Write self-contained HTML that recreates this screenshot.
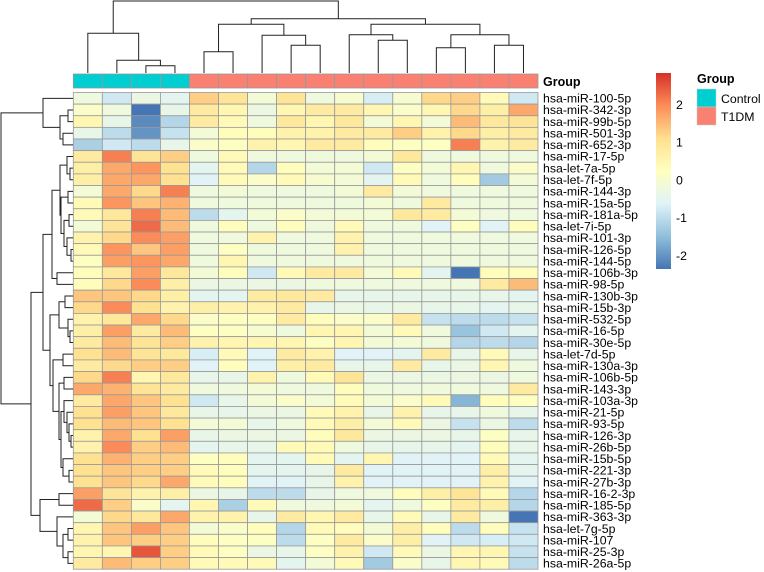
<!DOCTYPE html>
<html><head><meta charset="utf-8"><style>
body{margin:0;background:#fff;}
svg{display:block;font-family:"Liberation Sans",Arial,sans-serif;}
</style></head><body>
<svg id="c" width="764" height="572"></svg>
<script>
const rowLabels=["hsa-miR-100-5p","hsa-miR-342-3p","hsa-miR-99b-5p","hsa-miR-501-3p","hsa-miR-652-3p","hsa-miR-17-5p","hsa-let-7a-5p","hsa-let-7f-5p","hsa-miR-144-3p","hsa-miR-15a-5p","hsa-miR-181a-5p","hsa-let-7i-5p","hsa-miR-101-3p","hsa-miR-126-5p","hsa-miR-144-5p","hsa-miR-106b-3p","hsa-miR-98-5p","hsa-miR-130b-3p","hsa-miR-15b-3p","hsa-miR-532-5p","hsa-miR-16-5p","hsa-miR-30e-5p","hsa-let-7d-5p","hsa-miR-130a-3p","hsa-miR-106b-5p","hsa-miR-143-3p","hsa-miR-103a-3p","hsa-miR-21-5p","hsa-miR-93-5p","hsa-miR-126-3p","hsa-miR-26b-5p","hsa-miR-15b-5p","hsa-miR-221-3p","hsa-miR-27b-3p","hsa-miR-16-2-3p","hsa-miR-185-5p","hsa-miR-363-3p","hsa-let-7g-5p","hsa-miR-107","hsa-miR-25-3p","hsa-miR-26a-5p"];
const groups=["Control","Control","Control","Control","T1DM","T1DM","T1DM","T1DM","T1DM","T1DM","T1DM","T1DM","T1DM","T1DM","T1DM","T1DM"];
const values=[
[-0.2,-0.8,-0.3,-0.5,1.3,1.0,-0.1,1.0,-0.2,0,-0.7,0,1.2,1.3,0.4,-0.8],
[0.1,-0.2,-2.5,-0.4,0.8,0.5,-0.3,0.5,0.8,0.8,0.5,0.1,0.5,1.2,0.7,1.7],
[0.5,-0.4,-2.1,-1.1,0.8,0.4,-0.2,0.9,0.5,0.9,-0.1,0.5,-0.1,1.5,0.9,1.0],
[-0.4,-1.0,-2.0,-0.9,-0.1,0.3,0.3,0.6,0.6,0.8,0.8,1.3,0.6,1.2,0.7,0.8],
[-1.2,-0.8,-1.0,-0.4,0.1,0.2,0.6,0.5,0.8,0.8,0.3,0.2,0.2,2.1,0.6,0.8],
[0.8,2.1,1.0,1.3,-0.2,0.4,-0.2,-0.2,-0.2,-0.2,-0.1,0.9,-0.2,-0.2,-0.2,-0.2],
[0.7,1.7,1.9,1.1,-0.5,0.4,-1.1,0.3,-0.1,-0.1,-0.8,0.2,-0.1,0.5,-0.2,0.1],
[0.7,1.7,1.7,1.1,-0.6,0.4,0.1,0.4,0,-0.1,-0.5,0.4,-0.2,0.3,-1.3,-0.1],
[-0.1,1.7,1.2,2.1,-0.2,-0.1,-0.2,-0.2,-0.2,-0.1,0.8,-0.1,-0.2,-0.2,-0.2,-0.2],
[0.4,1.9,1.4,1.6,-0.2,-0.2,-0.2,-0.2,-0.2,-0.2,-0.1,-0.2,0.8,-0.2,-0.2,-0.2],
[0.4,0.9,2.1,1.5,-1.0,-0.5,-0.1,0.1,-0.1,-0.1,-0.1,0.9,0.8,-0.1,-0.2,-0.2],
[-0.1,1.0,2.3,1.5,-0.2,0.3,-0.2,0.3,-0.2,0.4,-0.2,-0.2,-0.6,0.2,-0.6,0.3],
[0.6,1.2,2.0,1.8,-0.2,-0.2,0.6,-0.2,-0.2,0.6,-0.2,-0.2,-0.2,-0.2,-0.2,-0.2],
[0.4,1.9,1.4,1.8,-0.2,0.2,-0.2,-0.2,-0.2,0.6,-0.2,-0.2,-0.2,-0.2,-0.2,-0.2],
[0.2,1.8,1.9,1.7,-0.2,0.5,-0.2,-0.2,-0.2,-0.2,-0.2,-0.2,-0.2,-0.2,-0.2,-0.2],
[0.3,0.9,1.8,0.9,-0.1,0.3,-0.8,0.4,0.8,0.8,-0.1,0.4,-0.5,-2.4,0.3,0.3],
[0.3,1.2,2.0,0.7,-0.3,-0.3,-0.3,-0.3,-0.2,-0.2,-0.2,-0.2,-0.2,-0.2,0.8,1.5],
[1.4,1.4,1.2,0.7,-0.5,-0.5,0.8,0.9,0.8,-0.4,-0.4,-0.4,-0.4,-0.4,-0.4,-0.5],
[1.2,2.0,1.1,0.6,0.7,0.6,0.6,0.8,-0.4,-0.3,-0.4,-0.3,-0.4,-0.4,-0.5,-0.4],
[0.6,0.9,1.7,1.2,0.1,0.2,0.2,0.8,0.3,0.1,0.1,0.8,-0.9,-1.0,-1.0,-0.9],
[0.7,1.8,0.8,1.5,0.2,0.2,0.0,-0.2,0.5,0.5,-0.1,0.4,-0.2,-1.4,-0.8,-0.5],
[0.8,1.5,1.0,1.3,0.6,0.5,0.5,0.5,0.2,0.5,-0.1,-0.1,-0.2,-1.1,-1.0,-1.1],
[1.1,1.5,1.0,0.9,-0.7,0.4,-0.6,0.8,0.6,-0.6,-0.6,-0.5,0.8,-0.4,0.4,-0.4],
[0.8,1.2,1.3,1.3,-0.6,0.3,-0.6,0.7,0.8,-0.4,-0.4,0.8,-0.4,-0.3,0.5,-0.2],
[1.2,2.1,0.5,0.9,-0.4,-0.4,0.6,-0.2,0.4,1.0,-0.3,-0.3,-0.3,-0.3,-0.3,-0.2],
[1.7,1.6,1.0,0.8,-0.2,-0.2,-0.1,-0.2,-0.2,0.3,-0.2,-0.2,-0.2,-0.2,-0.2,0.8],
[0.8,1.7,1.4,1.1,-0.8,-0.4,-0.1,0.1,-0.1,0.4,-0.1,0.1,0.4,-1.6,0.3,0.2],
[1.1,1.8,1.4,0.9,-0.4,-0.4,-0.3,-0.3,0.4,0.6,-0.4,0.6,-0.4,-0.4,-0.2,-0.4],
[1.1,1.5,1.4,1.1,-0.1,-0.1,-0.4,-0.2,0.4,0.7,-0.1,0.4,-0.3,-0.9,-0.3,-1.0],
[0.6,1.7,1.1,1.8,-0.4,-0.3,-0.3,-0.3,0.3,0.9,-0.3,-0.3,-0.3,-0.4,0.2,-0.4],
[0.6,2.0,1.3,1.5,-0.5,-0.4,-0.4,0.4,0.4,-0.2,-0.4,-0.4,-0.4,-0.5,0.3,-0.4],
[1.1,1.6,1.3,1.3,0.2,0.3,-0.5,-0.5,0.4,-0.5,0.5,-0.6,-0.6,-0.6,0.4,-0.5],
[1.1,1.4,1.3,1.3,0.4,0.3,-0.5,-0.5,-0.4,0.8,-0.6,-0.6,-0.6,-0.6,0.7,-0.5],
[1.1,1.4,1.2,1.7,0.4,0.3,-0.6,-0.6,-0.4,0.6,-0.6,-0.6,-0.6,-0.6,0.6,-0.6],
[1.8,1.0,0.6,0.7,-0.3,-0.4,-1.0,-1.0,-0.4,-0.2,-0.2,0.3,0.7,1.0,0.4,-1.1],
[2.3,1.3,0.1,-0.5,0.5,-1.2,0.4,-0.2,-0.2,-0.1,-0.5,-0.2,0.2,0.8,0.7,-1.1],
[-0.1,1.2,0.9,1.7,0.6,0.6,-0.4,0.8,0.5,0.8,-0.4,0.4,-0.4,0.8,-0.2,-2.5],
[0.5,1.4,1.8,1.4,-0.1,0.1,0.3,-1.1,0.4,0.3,-0.1,0.7,0.3,-1.0,0.3,-0.9],
[0.6,1.4,1.3,1.3,0.3,0.2,0.2,-1.0,0.2,0.8,0.1,0.7,-0.6,-0.8,-0.7,-0.8],
[0.5,0.5,2.5,1.3,0.4,0.2,-0.3,-0.4,0.2,0.6,-0.8,0.4,-0.3,0.5,0.5,-0.9],
[0.8,1.5,1.3,1.3,0.4,0.4,0.4,-0.5,-0.1,0.4,-1.3,0.1,-0.4,0.5,0.4,-1.0]];
const legendTicks=[2,1,0,-1,-2];
const colTree=[72,[39.7,0,[12.7,1,[7.3,2,3]]],[54.3,[48.7,[21.3,4,5],[37.7,6,[27.7,7,8]]],[48.7,[38.3,9,[32.7,10,11]],[38.3,[25.3,12,13],[27.7,14,15]]]]];
const rowTree=[72,[30,0,[13,[5,1,2],[10,3,4]]],[42,[30,[21,[13,[6,5,[3,6,7]],[12,[5,8,9],[9,[4,10,11],[6,12,[2,13,14]]]]],[16,15,16]],[23,[14,[8,17,18],[5,19,[3,20,21]]],[20,[10,22,23],[14,[9,24,25],[12,[9,26,[6,27,[4,28,[2,29,30]]]],[10,31,[4,32,33]]]]]]],[33,[14,34,35],[16,36,[10,[5,37,38],[5,39,40]]]]]];

const NS="http://www.w3.org/2000/svg";
const svg=document.getElementById('c');
function mk(t,a,p){const e=document.createElementNS(NS,t);for(const k in a)e.setAttribute(k,a[k]);(p||svg).appendChild(e);return e;}
const X0=73.3,X1=538,Y0=92.5,Y1=569.2;
const cw=(X1-X0)/groups.length, rh=(Y1-Y0)/rowLabels.length;
const pal=["#4575B4","#91BFDB","#E0F3F8","#FFFFBF","#FEE090","#FC8D59","#D73027"];
const vmin=-2.35,vmax=2.85;
function hex(h){return [1,3,5].map(i=>parseInt(h.substr(i,2),16));}
function color(v){let t=(v-vmin)/(vmax-vmin);t=Math.max(0,Math.min(1,t))*(pal.length-1);const i=Math.min(pal.length-2,Math.floor(t)),f=t-i;const a=hex(pal[i]),b=hex(pal[i+1]);return "rgb("+a.map((x,k)=>Math.round(x+(b[k]-x)*f)).join(",")+")";}
const colX=i=>X0+cw*(i+0.5), rowY=i=>Y0+rh*(i+0.5);
const grpColor={Control:"#00CED1",T1DM:"#FA8072"};
const ga=mk('g',{});

groups.forEach((g,i)=>{const r=mk('rect',{x:X0+cw*i,y:74,width:cw,height:14,fill:grpColor[g],stroke:"#999",'stroke-width':0.8},ga);

});
let t=mk('text',{x:543,y:86,'font-size':12.5,'font-weight':'bold',fill:'#000'});t.textContent="Group";

const gh=mk('g',{});
values.forEach((row,r)=>row.forEach((v,c)=>{const e=mk('rect',{x:X0+cw*c,y:Y0+rh*r,width:cw,height:rh,fill:color(v),stroke:"#999",'stroke-width':0.8},gh);

}));
rowLabels.forEach((l,r)=>{const e=mk('text',{x:543,y:rowY(r)+4.3,'font-size':12.3,fill:'#000'});e.textContent=l;

});
function drawCol(n,g){if(typeof n==='number')return {x:colX(n),y:73};const a=drawCol(n[1],g),b=drawCol(n[2],g);const y=73-n[0];
mk('path',{d:`M${a.x},${a.y}V${y}H${b.x}V${b.y}`,fill:'none',stroke:'#222','stroke-width':1},g);return {x:(a.x+b.x)/2,y};}
const gc=mk('g',{});
drawCol(colTree,gc);
function drawRow(n,g){if(typeof n==='number')return {x:73,y:rowY(n)};const a=drawRow(n[1],g),b=drawRow(n[2],g);const x=73-n[0];
mk('path',{d:`M${a.x},${a.y}H${x}V${b.y}H${b.x}`,fill:'none',stroke:'#222','stroke-width':1},g);return {x,y:(a.y+b.y)/2};}
const gr=mk('g',{});
drawRow(rowTree,gr);
const defs=mk('defs',{});const lg=mk('linearGradient',{id:'lg',x1:0,y1:1,x2:0,y2:0},defs);
pal.forEach((p,i)=>mk('stop',{offset:i/(pal.length-1),'stop-color':p},lg));
const lb=mk('rect',{x:656,y:73,width:15,height:196,fill:'url(#lg)'});

const ly=v=>73+(vmax-v)/(vmax-vmin)*196;
legendTicks.forEach(v=>{const e=mk('text',{x:676,y:ly(v)+4,'font-size':12.3,fill:'#000'});e.textContent=String(v);

});
t=mk('text',{x:697,y:83,'font-size':12.5,'font-weight':'bold',fill:'#000'});t.textContent="Group";

["Control","T1DM"].forEach((g,i)=>{const r=mk('rect',{x:697,y:89+i*18,width:19,height:18,fill:grpColor[g],stroke:'#ccc','stroke-width':0.5});


const e=mk('text',{x:721,y:103+i*18,'font-size':12.3,fill:'#000'});e.textContent=g;

});
</script>
</body></html>
